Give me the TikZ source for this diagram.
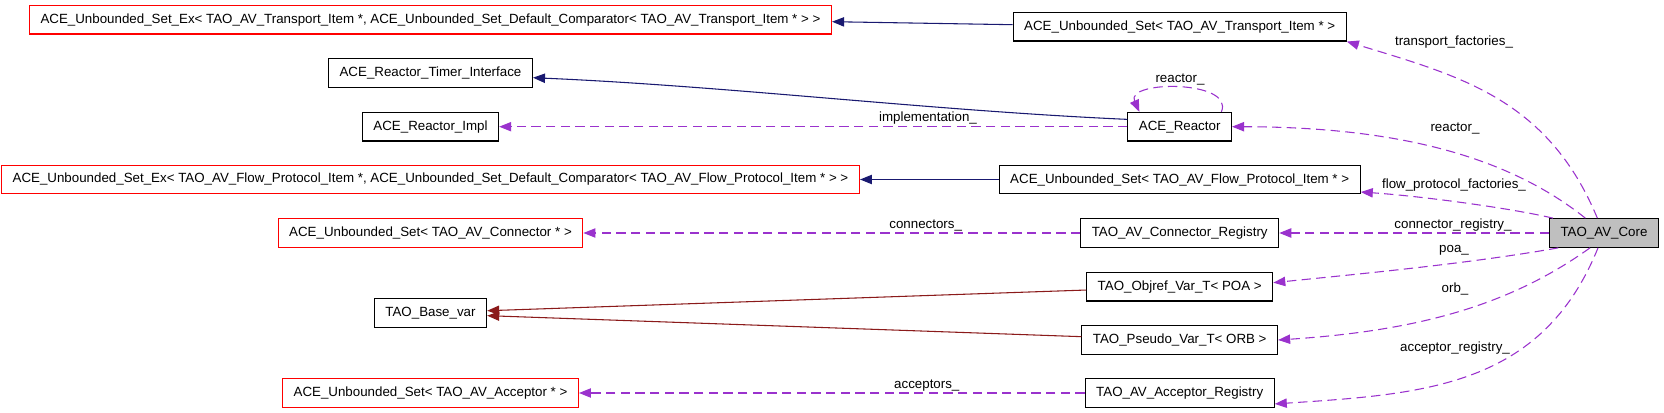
\documentclass[tikz,border=0pt]{standalone}
\usepackage{fontspec}
\setmainfont{Liberation Sans}
\usepackage{xcolor}
\usepackage{tikz}
\usetikzlibrary{arrows.meta,positioning}

\definecolor{navyedge}{HTML}{191970}
\definecolor{useedge}{HTML}{9A32CD}
\definecolor{tmpledge}{HTML}{8B1A1A}

\begin{document}
\begin{tikzpicture}[
  x=0.75pt, y=0.75pt,
  font=\fontsize{10}{12}\selectfont,
  cbox/.style = {draw, line width=0.8pt, minimum height=21.5pt,
                 inner xsep=8.3pt, inner ysep=0pt, fill=white},
  tbox/.style = {cbox, draw=red},
  hbox/.style = {cbox, fill=gray!50},
  arr/.style  = {-{Triangle[length=9pt,width=7pt]}, line width=0.8pt,
                 navyedge},
  tarr/.style = {arr, tmpledge},
  das/.style  = {arr, useedge, dash pattern=on 7pt off 4pt},
  lbl/.style  = {inner sep=0pt, anchor=mid}
]
\useasboundingbox (0,0) rectangle (1664,-413);
%% -- Left column (base / member classes) --
\node[tbox] (extrans) at (430.5,-19.7) {ACE\_Unbounded\_Set\_Ex< TAO\_AV\_Transport\_Item *, ACE\_Unbounded\_Set\_Default\_Comparator< TAO\_AV\_Transport\_Item * > >};
\node[cbox] (timer)   at (430.5,-73.3)  {ACE\_Reactor\_Timer\_Interface};
\node[cbox] (impl)    at (430.5,-126.7) {ACE\_Reactor\_Impl};
\node[tbox] (exflow)  at (430.5,-179.5) {ACE\_Unbounded\_Set\_Ex< TAO\_AV\_Flow\_Protocol\_Item *, ACE\_Unbounded\_Set\_Default\_Comparator< TAO\_AV\_Flow\_Protocol\_Item * > >};
\node[tbox] (uconn)   at (430.5,-233)   {ACE\_Unbounded\_Set< TAO\_AV\_Connector * >};
\node[cbox] (basevar) at (430.5,-313)   {TAO\_Base\_var};
\node[tbox] (uacc)    at (430.5,-393)   {ACE\_Unbounded\_Set< TAO\_AV\_Acceptor * >};
%% -- Middle column --
\node[cbox] (utrans)  at (1179.7,-26.7)  {ACE\_Unbounded\_Set< TAO\_AV\_Transport\_Item * >};
\node[cbox] (reactor) at (1179.7,-126.7) {ACE\_Reactor};
\node[cbox] (uflow)   at (1179.7,-179.5) {ACE\_Unbounded\_Set< TAO\_AV\_Flow\_Protocol\_Item * >};
\node[cbox] (connreg) at (1179.7,-233)   {TAO\_AV\_Connector\_Registry};
\node[cbox] (objref)  at (1179.7,-286.7) {TAO\_Objref\_Var\_T< POA >};
\node[cbox] (pseudo)  at (1179.7,-340)   {TAO\_Pseudo\_Var\_T< ORB >};
\node[cbox] (accreg)  at (1179.7,-393)   {TAO\_AV\_Acceptor\_Registry};
%% -- The class itself --
\node[hbox] (core) at (1604,-233) {TAO\_AV\_Core};
%% -- Inheritance --
\draw[arr] ([yshift=1.5pt]utrans.west) -- ([yshift=-1.5pt]extrans.east);
\draw[arr] ([yshift=5.5pt]reactor.west)
    .. controls (929,-110.5) and (730,-86.2) .. ([yshift=-3.3pt]timer.east);
\draw[arr] (uflow.west) -- (exflow.east);
\draw[tarr] ([yshift=-2.5pt]objref.west) -- ([yshift=1.7pt]basevar.east);
\draw[tarr] ([yshift=2.5pt]pseudo.west) -- ([yshift=-2pt]basevar.east);
%% -- Usage --
\draw[das] (reactor.west) -- (impl.east);
\draw[das] ([xshift=-8pt]reactor.north east)
    .. controls (1235,-80) and (1125,-80) .. ([xshift=9pt]reactor.north west);
\draw[das] (connreg.west) -- (uconn.east);
\draw[das] (accreg.west) -- (uacc.east);
\draw[das] ([xshift=-5pt]core.north)
    .. controls (1547.6,-98.4) and (1459.5,-76) .. (utrans.south east);
\draw[das] ([xshift=-14pt]core.north)
    .. controls (1500,-150) and (1381,-127) .. (reactor.east);
\draw[das] ([xshift=3pt]core.north west)
    .. controls (1510,-208) and (1420,-196) .. ([yshift=-9.4pt]uflow.east);
\draw[das] (core.west) -- (connreg.east);
\draw[das] ([xshift=7pt]core.south west)
    .. controls (1469.4,-263.6) and (1361.2,-273.7) .. ([yshift=3pt]objref.east);
\draw[das] ([xshift=-10.5pt]core.south)
    .. controls (1509,-306) and (1416.3,-330.8) .. (pseudo.east);
\draw[das] ([xshift=-4.5pt]core.south)
    .. controls (1541.75,-387) and (1424.7,-394) .. ([yshift=-8.2pt]accreg.east);
%% -- Edge labels --
\node[lbl] (limpl)  at (928,-118)    {implementation\_};
\node[lbl] (lself)  at (1180,-79)    {reactor\_};
\node[lbl] (lconn)  at (925.7,-225)  {connectors\_};
\node[lbl] (lacc)   at (926.8,-385)  {acceptors\_};
\node[lbl] (ltrans) at (1454,-41.5)  {transport\_factories\_};
\node[lbl] (lreact) at (1455,-128)   {reactor\_};
\node[lbl] (lflow)  at (1454,-185)   {flow\_protocol\_factories\_};
\node[lbl] (lcreg)  at (1453,-225)   {connector\_registry\_};
\node[lbl] (lpoa)   at (1454,-248.5) {poa\_};
\node[lbl] (lorb)   at (1455,-289)   {orb\_};
\node[lbl] (lareg)  at (1455,-347.5) {acceptor\_registry\_};
\end{tikzpicture}
\end{document}
